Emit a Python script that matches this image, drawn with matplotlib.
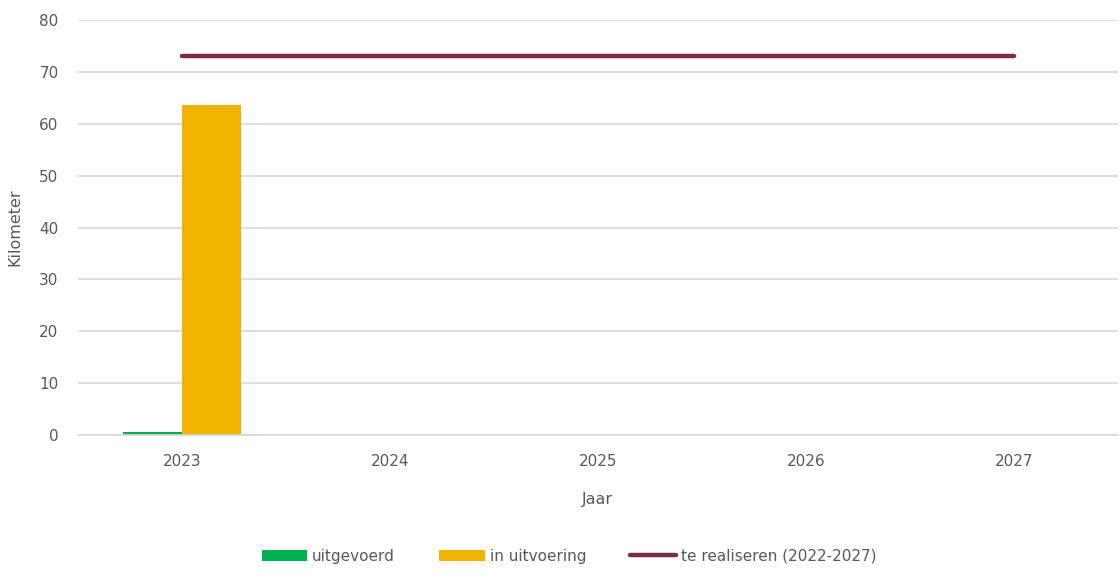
import matplotlib.pyplot as plt
import numpy as np

# data
jaren = ['2023', '2024', '2025', '2026', '2027']
uitgevoerd = [0.5, 0, 0, 0, 0]
in_uitvoering = [63.7, 0, 0, 0, 0]
te_realiseren = [73, 73, 73, 73, 73]

grijs = '#595959'
plt.rcParams['font.family'] = ['DejaVu Sans']

fig = plt.figure(figsize=(11.2, 5.74), dpi=100, facecolor='w')
ax = fig.add_axes([0.0696, 0.2422, 0.9284, 0.7228])

x = np.arange(len(jaren))
w = 1 / 3.5  # excel gap width 150%
b1 = ax.bar(x - w / 2, uitgevoerd, w, color='#00B050', label='uitgevoerd', zorder=2)
b2 = ax.bar(x + w / 2, in_uitvoering, w, color='#F0B400', label='in uitvoering', zorder=2)
l1, = ax.plot(x, te_realiseren, color='#7E2B41', linewidth=3.2, solid_capstyle='round',
              label='te realiseren (2022-2027)', zorder=3)

ax.set_xlim(-0.5, len(jaren) - 0.5)
ax.set_ylim(0, 80)
ax.set_yticks(range(0, 81, 10))
ax.set_xticks(x)
ax.set_xticklabels(jaren)
ax.yaxis.grid(True, color='#D9D9D9', linewidth=1.2, zorder=0)
ax.set_axisbelow(True)
for s in ['top', 'right', 'left']:
    ax.spines[s].set_visible(False)
ax.spines['bottom'].set_color('#D9D9D9')
ax.spines['bottom'].set_linewidth(1.2)
ax.tick_params(axis='y', length=0, pad=14, labelsize=11, labelcolor=grijs)
ax.tick_params(axis='x', length=0, pad=14, labelsize=11, labelcolor=grijs)

ax.set_xlabel('Jaar', fontsize=11.5, color=grijs, labelpad=16)
ax.set_ylabel('Kilometer', fontsize=11.5, color=grijs, labelpad=12)

# legenda gecentreerd op de figuur, zoals in excel
fig.legend(handles=[b1, b2, l1], loc='center', bbox_to_anchor=(0.508, 0.031), ncol=3,
           frameon=False, fontsize=11, labelcolor=grijs, handlelength=3,
           handleheight=0.75, handletextpad=0.3, columnspacing=2.9)

plt.savefig('out.png', dpi=100)
plt.close()
